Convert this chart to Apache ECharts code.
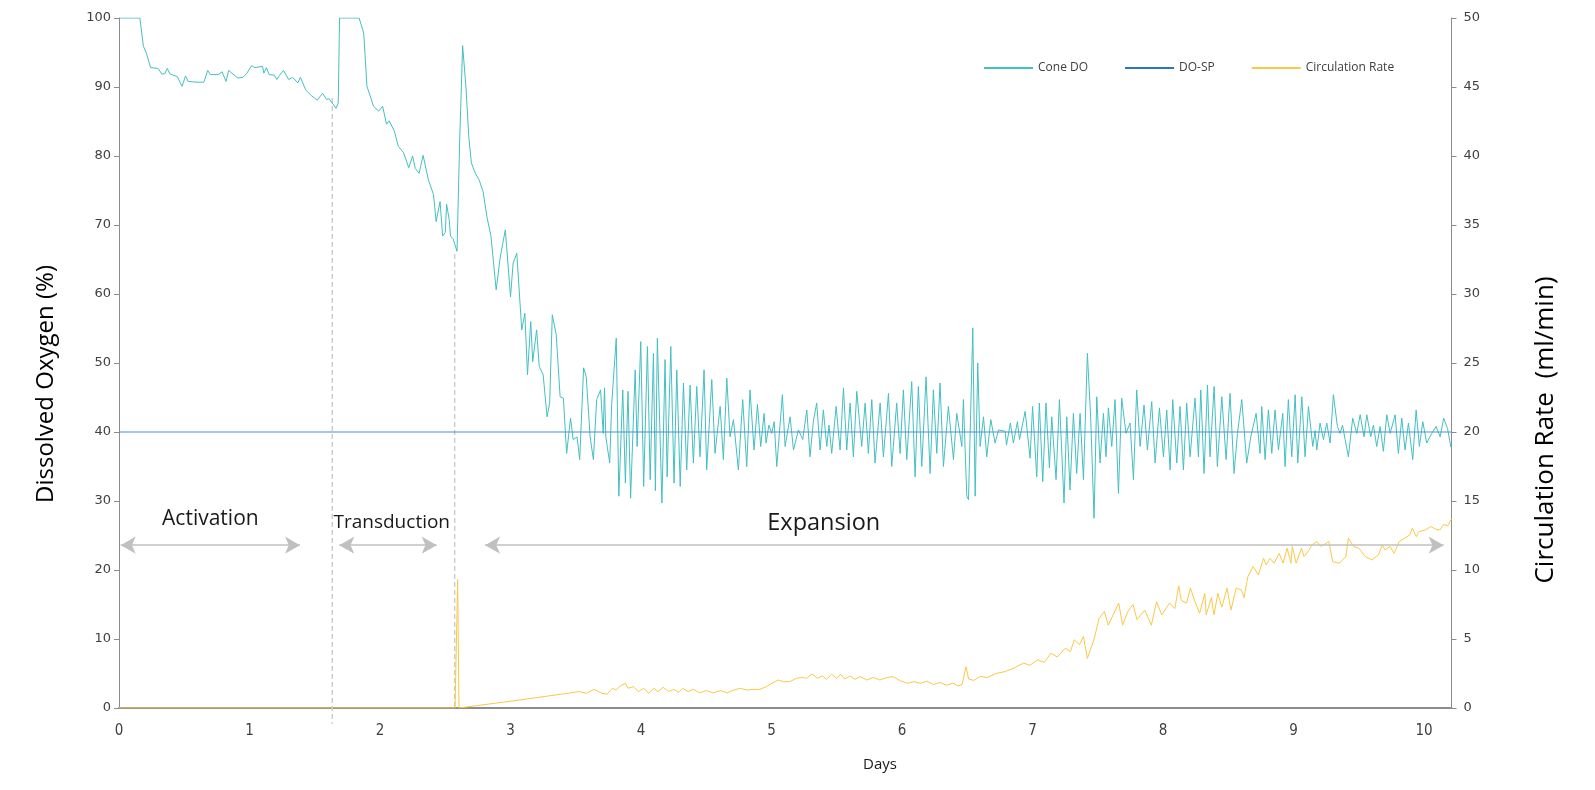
<!DOCTYPE html>
<html><head><meta charset="utf-8">
<script src="https://cdn.jsdelivr.net/npm/echarts@6/dist/echarts.min.js"></script>
<style>html,body{margin:0;padding:0;background:#fff}#chart{width:1595px;height:790px}</style>
</head><body><div id="chart"></div>
<script>
// ---------- DATA ----------
// Cone DO (%) : [day, percent]
const coneDO = [
[0,100],[0.16,100],[0.187,95.9],[0.21,94.9],[0.242,92.8],[0.30,92.7],[0.327,91.9],[0.35,91.9],[0.37,92.7],[0.39,91.9],[0.447,91.5],[0.483,90.1],[0.51,91.6],[0.53,90.8],[0.59,90.7],[0.65,90.7],[0.68,92.4],[0.70,91.8],[0.76,91.8],[0.79,92.2],[0.82,90.8],[0.84,92.4],[0.91,91.3],[0.95,91.4],[0.98,92.0],[1.017,93.1],[1.04,92.8],[1.10,93.0],[1.11,92.0],[1.13,92.8],[1.15,91.8],[1.19,91.7],[1.21,91.1],[1.23,91.7],[1.26,92.4],[1.30,91.1],[1.33,91.4],[1.37,90.6],[1.39,91.4],[1.43,89.6],[1.47,88.8],[1.52,88.1],[1.56,89.1],[1.59,88.2],[1.61,88.3],[1.663,86.9],[1.68,87.7],[1.69,100],[1.84,100],[1.875,97.8],[1.90,90.1],[1.93,88.4],[1.95,87.2],[1.99,86.5],[2.02,87.2],[2.05,84.6],[2.07,85.1],[2.11,83.6],[2.14,81.4],[2.18,80.5],[2.22,78.3],[2.25,80.0],[2.27,78.2],[2.30,77.5],[2.33,80.1],[2.37,76.6],[2.41,74.4],[2.43,70.5],[2.46,73.4],[2.48,68.4],[2.50,68.9],[2.51,73.0],[2.53,70.8],[2.54,68.4],[2.56,68.0],[2.59,66.2],[2.61,82.0],[2.633,96.0],[2.66,89.6],[2.68,82.8],[2.70,79.0],[2.73,77.5],[2.76,76.5],[2.79,74.8],[2.82,71.1],[2.85,68.4],[2.89,60.6],[2.92,65.2],[2.96,69.3],[3.00,59.6],[3.02,64.5],[3.048,65.9],[3.086,54.8],[3.11,57.2],[3.13,48.3],[3.155,56.0],[3.17,50.2],[3.20,54.8],[3.22,49.5],[3.25,48.3],[3.28,42.2],[3.30,44.2],[3.32,57.0],[3.35,54.1],[3.38,45.1],[3.405,44.9],[3.43,36.9],[3.46,42.0],[3.48,38.9],[3.51,39.3],[3.53,36.0],[3.56,49.3],[3.58,48.0],[3.61,39.3],[3.635,36.0],[3.66,44.7],[3.69,46.1],[3.71,39.8],[3.72,46.4],[3.73,39.3],[3.76,35.5],[3.775,44.0],[3.81,53.6],[3.83,30.7],[3.86,46.1],[3.88,32.6],[3.90,45.9],[3.92,30.4],[3.955,49.0],[3.97,37.9],[3.998,53.1],[4.02,32.1],[4.049,52.4],[4.07,33.1],[4.095,51.4],[4.11,31.5],[4.125,53.6],[4.16,29.7],[4.184,50.5],[4.20,33.5],[4.228,52.4],[4.253,32.6],[4.274,49.0],[4.30,32.1],[4.325,47.1],[4.35,34.5],[4.376,46.8],[4.401,35.5],[4.427,46.6],[4.452,36.4],[4.483,49.0],[4.503,34.5],[4.542,47.6],[4.567,36.9],[4.606,43.7],[4.631,36.0],[4.657,47.8],[4.682,39.3],[4.708,41.8],[4.746,34.5],[4.779,44.7],[4.81,35.0],[4.835,46.1],[4.866,37.4],[4.892,44.0],[4.917,37.9],[4.943,42.7],[4.958,38.4],[4.98,41.0],[5.001,39.8],[5.02,41.5],[5.04,35.0],[5.083,45.4],[5.104,37.9],[5.142,42.2],[5.168,37.4],[5.206,40.3],[5.239,38.9],[5.27,43.2],[5.295,36.4],[5.32,41.5],[5.346,44.2],[5.372,37.4],[5.397,43.2],[5.423,37.9],[5.44,41.0],[5.461,36.9],[5.495,43.7],[5.525,37.4],[5.551,46.4],[5.576,37.4],[5.602,44.2],[5.627,36.4],[5.653,45.9],[5.691,37.9],[5.717,44.2],[5.742,36.9],[5.768,44.7],[5.793,35.5],[5.832,44.2],[5.857,36.4],[5.896,45.6],[5.921,35.0],[5.959,44.2],[5.985,36.9],[6.01,46.1],[6.036,36.0],[6.074,47.3],[6.10,33.5],[6.125,46.6],[6.151,35.0],[6.184,48.0],[6.215,34.0],[6.24,46.1],[6.266,36.9],[6.291,47.1],[6.317,35.0],[6.355,43.7],[6.394,36.0],[6.419,42.7],[6.458,37.9],[6.47,44.7],[6.496,30.7],[6.509,30.2],[6.542,55.1],[6.56,30.7],[6.58,50.0],[6.598,37.9],[6.624,42.2],[6.649,36.4],[6.68,41.8],[6.713,38.4],[6.739,40.3],
[6.79,40.1],[6.80,38.1],[6.83,41.3],[6.853,38.4],[6.884,41.5],[6.90,38.9],[6.943,43.0],[6.981,36.2],[7.0,43.7],[7.032,33.5],[7.052,44.2],[7.078,32.8],[7.103,44.2],[7.129,34.8],[7.147,42.2],[7.18,33.1],[7.206,44.7],[7.241,29.7],[7.262,42.2],[7.287,31.6],[7.313,42.7],[7.338,34.0],[7.364,42.7],[7.39,33.1],[7.42,51.4],[7.446,41.8],[7.471,27.5],[7.492,45.1],[7.517,35.5],[7.543,42.7],[7.563,36.4],[7.581,43.5],[7.607,37.9],[7.632,44.7],[7.658,31.1],[7.683,44.9],[7.716,39.8],[7.747,41.3],[7.773,33.1],[7.798,46.1],[7.824,37.9],[7.854,43.9],[7.88,37.4],[7.913,44.4],[7.939,35.5],[7.972,43.5],[8.003,36.4],[8.028,43.2],[8.054,34.5],[8.074,44.7],[8.105,35.5],[8.13,43.7],[8.156,34.5],[8.181,44.2],[8.207,36.4],[8.245,44.9],[8.271,36.4],[8.289,46.1],[8.314,34.0],[8.34,46.8],[8.36,36.4],[8.391,46.6],[8.416,35.0],[8.45,45.1],[8.483,36.0],[8.513,45.6],[8.544,34.0],[8.57,39.8],[8.603,44.7],[8.641,35.5],[8.672,39.3],[8.713,42.7],[8.743,36.9],[8.756,43.7],[8.782,36.0],[8.807,43.2],[8.833,36.9],[8.858,43.2],[8.884,37.4],[8.917,42.7],[8.935,35.0],[8.96,44.7],[8.986,36.4],[9.012,45.4],[9.032,35.5],[9.063,45.1],[9.088,36.4],[9.114,43.7],[9.147,37.9],[9.165,40.2],[9.178,37.4],[9.203,41.3],[9.229,38.9],[9.254,41.3],[9.28,38.4],[9.305,45.4],[9.336,40.8],[9.356,39.8],[9.375,41.0],[9.395,38.9],[9.42,36.4],[9.453,42.0],[9.484,39.8],[9.51,42.5],[9.54,39.3],[9.561,42.5],[9.591,39.3],[9.612,41.0],[9.637,37.9],[9.663,40.8],[9.688,37.2],[9.714,42.5],[9.74,39.8],[9.778,42.5],[9.803,36.9],[9.829,42.0],[9.854,37.4],[9.88,41.3],[9.913,36.0],[9.939,43.2],[9.964,37.9],[9.99,41.5],[10.02,38.4],[10.059,39.8],[10.092,40.8],[10.123,39.3],[10.15,42.0],[10.18,40.5],[10.205,37.8]
];
// DO set point (%)
const doSetpoint = [[0,40],[10.21,40]];
// Circulation rate (ml/min) : [day, ml/min]
const circulationRate = [
[0,0],[2.575,0],[2.595,9.3],[2.605,0],[2.615,0],[3.07,0.58],[3.53,1.19],[3.58,1.07],[3.64,1.35],[3.70,1.07],[3.74,1.0],[3.78,1.43],[3.81,1.3],[3.84,1.6],[3.88,1.79],[3.90,1.43],[3.94,1.55],[3.98,1.19],[4.02,1.43],[4.06,1.07],[4.10,1.43],[4.13,1.19],[4.17,1.5],[4.21,1.19],[4.25,1.35],[4.29,1.14],[4.32,1.43],[4.36,1.19],[4.40,1.35],[4.45,1.1],[4.50,1.26],[4.55,1.1],[4.61,1.26],[4.66,1.1],[4.71,1.3],[4.76,1.43],[4.81,1.3],[4.86,1.35],[4.91,1.35],[4.96,1.55],[5.01,1.84],[5.05,2.03],[5.09,1.91],[5.14,1.91],[5.19,2.15],[5.23,2.22],[5.27,2.15],[5.31,2.47],[5.35,2.15],[5.39,2.32],[5.42,2.08],[5.46,2.44],[5.50,2.15],[5.53,2.44],[5.56,2.1],[5.60,2.32],[5.64,2.08],[5.68,2.27],[5.73,2.03],[5.78,2.22],[5.83,2.03],[5.88,2.2],[5.93,2.27],[5.99,1.96],[6.04,1.79],[6.09,1.91],[6.14,1.79],[6.19,1.95],[6.24,1.7],[6.29,1.85],[6.34,1.65],[6.39,1.8],[6.43,1.6],[6.46,1.7],[6.49,3.0],[6.51,2.1],[6.55,2.0],[6.60,2.3],[6.65,2.2],[6.72,2.5],[6.79,2.64],[6.86,2.9],[6.93,3.25],[6.98,3.1],[7.04,3.49],[7.09,3.3],[7.14,3.97],[7.19,3.7],[7.25,4.33],[7.29,4.1],[7.32,4.94],[7.36,4.6],[7.39,5.18],[7.42,3.6],[7.47,4.94],[7.51,6.5],[7.55,7.0],[7.58,6.0],[7.62,6.8],[7.66,7.6],[7.69,6.0],[7.73,7.0],[7.77,7.5],[7.80,6.4],[7.86,7.1],[7.91,6.0],[7.95,7.7],[7.99,6.75],[8.05,7.6],[8.09,7.2],[8.12,8.85],[8.14,7.8],[8.18,7.6],[8.21,8.7],[8.24,7.8],[8.28,6.87],[8.32,8.31],[8.33,6.75],[8.37,8.0],[8.39,6.75],[8.42,8.31],[8.45,7.3],[8.49,8.68],[8.52,7.1],[8.56,8.68],[8.60,8.56],[8.62,8.0],[8.65,9.52],[8.69,10.25],[8.73,9.64],[8.77,10.85],[8.79,10.37],[8.82,10.85],[8.85,10.49],[8.89,11.2],[8.92,10.49],[8.95,11.58],[8.98,10.49],[8.99,11.7],[9.02,10.49],[9.06,11.58],[9.08,10.97],[9.12,11.46],[9.14,11.82],[9.18,12.06],[9.21,11.7],[9.25,11.94],[9.27,12.06],[9.30,10.6],[9.35,10.49],[9.40,10.97],[9.42,12.3],[9.46,11.7],[9.50,11.58],[9.55,10.97],[9.60,10.73],[9.65,11.09],[9.68,11.82],[9.70,11.46],[9.74,11.7],[9.77,11.21],[9.81,12.06],[9.85,12.3],[9.89,12.54],[9.91,13.03],[9.94,12.42],[9.96,12.78],[10.01,12.9],[10.05,13.15],[10.09,12.95],[10.12,12.9],[10.15,13.3],[10.18,13.2],[10.21,13.7]
];
// Phase dividers: [day, top %, bottom %]
const phaseDividers = [[1.634, 88.4, -2.3], [2.572, 65.8, 0]];
// Phase arrows: [start day, end day, level %]
const phaseArrows = [[0.013, 1.387, 23.6], [1.688, 2.434, 23.6], [2.805, 10.15, 23.6]];
// Phase labels: [text, day, level %]
const phaseLabels = [['Activation', 0.70, 27.4], ['Transduction', 2.09, 26.85], ['Expansion', 5.40, 26.7]];
const seriesNames = ['Cone DO', 'DO-SP', 'Circulation Rate'];
const axisTitles = {left: 'Dissolved Oxygen (%)', right: 'Circulation Rate  (ml/min)', x: 'Days'};

// ---------- STYLE ----------
const TEAL = '#45bfc0', BLUE = '#4a8fd0', BLUE_LEG = '#2e75b6', GOLD = '#f9c846';
const FONT_NUM = '"DejaVu Sans", Verdana, sans-serif';
const FONT_TXT = '"Open Sans", "Noto Sans", sans-serif';
const FONT_X = '"Liberation Sans Narrow", "DejaVu Sans Condensed", "Open Sans", sans-serif';
const labelFont = {Activation: 21, Transduction: 19, Expansion: 23.5};

const mlData = [];
phaseArrows.forEach(([a, b, v]) => mlData.push([
  {coord: [a, v], symbol: 'arrow', symbolSize: [13, 15], lineStyle: {color: '#c0c0c0', width: 1.5, type: 'solid'}},
  {coord: [b, v], symbol: 'arrow', symbolSize: [13, 15]}
]));

const chart = echarts.init(document.getElementById('chart'), null, {renderer: 'canvas'});
chart.setOption({
  animation: false,
  backgroundColor: '#ffffff',
  grid: {left: 119, right: 143.5, top: 18, bottom: 82},
  legend: {
    left: 979, top: 57, itemWidth: 49, itemHeight: 2, itemGap: 37, icon: 'rect',
    textStyle: {fontFamily: FONT_TXT, fontSize: 12, color: '#404040'},
    data: seriesNames
  },
  xAxis: {
    type: 'value', min: 0, max: 10.21, interval: 1,
    axisLine: {lineStyle: {color: '#8c8c8c', width: 2}},
    axisTick: {show: false}, splitLine: {show: false},
    axisLabel: {margin: 16, fontFamily: FONT_X, fontSize: 15, color: '#404040', showMaxLabel: false,
      formatter: v => Number.isInteger(v) ? String(v) : ''}
  },
  yAxis: [
    {type: 'value', min: 0, max: 100, interval: 10, position: 'left',
     axisLine: {show: true, lineStyle: {color: '#8c8c8c'}},
     axisTick: {show: true, length: 5, lineStyle: {color: '#8c8c8c'}},
     splitLine: {show: false},
     axisLabel: {margin: 8, fontFamily: FONT_NUM, fontSize: 13, color: '#404040'}},
    {type: 'value', min: 0, max: 50, interval: 5, position: 'right',
     axisLine: {show: true, lineStyle: {color: '#8c8c8c'}},
     axisTick: {show: true, length: 5, lineStyle: {color: '#8c8c8c'}},
     splitLine: {show: false},
     axisLabel: {margin: 12, fontFamily: FONT_NUM, fontSize: 13, color: '#404040'}}
  ],
  series: [
    {name: 'dividers', type: 'custom', data: phaseDividers, yAxisIndex: 0, clip: false, silent: true, z: 1,
     encode: {x: 0, y: [1, 2]},
     renderItem: (params, api) => {
       const p1 = api.coord([api.value(0), api.value(1)]);
       const p2 = api.coord([api.value(0), api.value(2)]);
       return {type: 'line', shape: {x1: p1[0], y1: p1[1], x2: p2[0], y2: p2[1]},
               style: {stroke: '#cdcdcd', lineWidth: 1.5, lineDash: [5, 3]}};
     }},
    {name: seriesNames[0], type: 'line', data: coneDO, yAxisIndex: 0, symbol: 'none', showSymbol: false,
     lineStyle: {color: TEAL, width: 1}, itemStyle: {color: TEAL}, z: 3},
    {name: seriesNames[1], type: 'line', data: doSetpoint, yAxisIndex: 0, symbol: 'none', showSymbol: false,
     lineStyle: {color: BLUE, width: 1.2}, itemStyle: {color: BLUE_LEG}, z: 4},
    {name: seriesNames[2], type: 'line', data: circulationRate, yAxisIndex: 1, symbol: 'none', showSymbol: false,
     lineStyle: {color: GOLD, width: 1}, itemStyle: {color: GOLD}, z: 2},
    {name: 'phases', type: 'line', data: [], yAxisIndex: 0, clip: false, silent: true, z: 1,
     markLine: {silent: true, animation: false, label: {show: false}, symbol: ['none', 'none'], data: mlData},
     markPoint: {silent: true, animation: false,
       data: phaseLabels.map(([t, d, v]) => ({
         coord: [d, v], name: t, symbol: 'circle', symbolSize: 1, itemStyle: {color: 'rgba(0,0,0,0)'},
         label: {show: true, position: 'inside', formatter: t, fontSize: labelFont[t], color: '#1a1a1a', fontFamily: FONT_TXT}
       }))}
    }
  ],
  graphic: [
    {type: 'text', x: 46, y: 384, rotation: Math.PI / 2,
     style: {text: axisTitles.left, font: '24px ' + FONT_TXT, fill: '#000', align: 'center', verticalAlign: 'middle'}},
    {type: 'text', x: 1546, y: 430, rotation: Math.PI / 2,
     style: {text: axisTitles.right, font: '26px ' + FONT_TXT, fill: '#000', align: 'center', verticalAlign: 'middle'}},
    {type: 'text', x: 880, y: 765,
     style: {text: axisTitles.x, font: '15px ' + FONT_TXT, fill: '#1a1a1a', align: 'center', verticalAlign: 'middle'}}
  ]
});
</script>
</body></html>
